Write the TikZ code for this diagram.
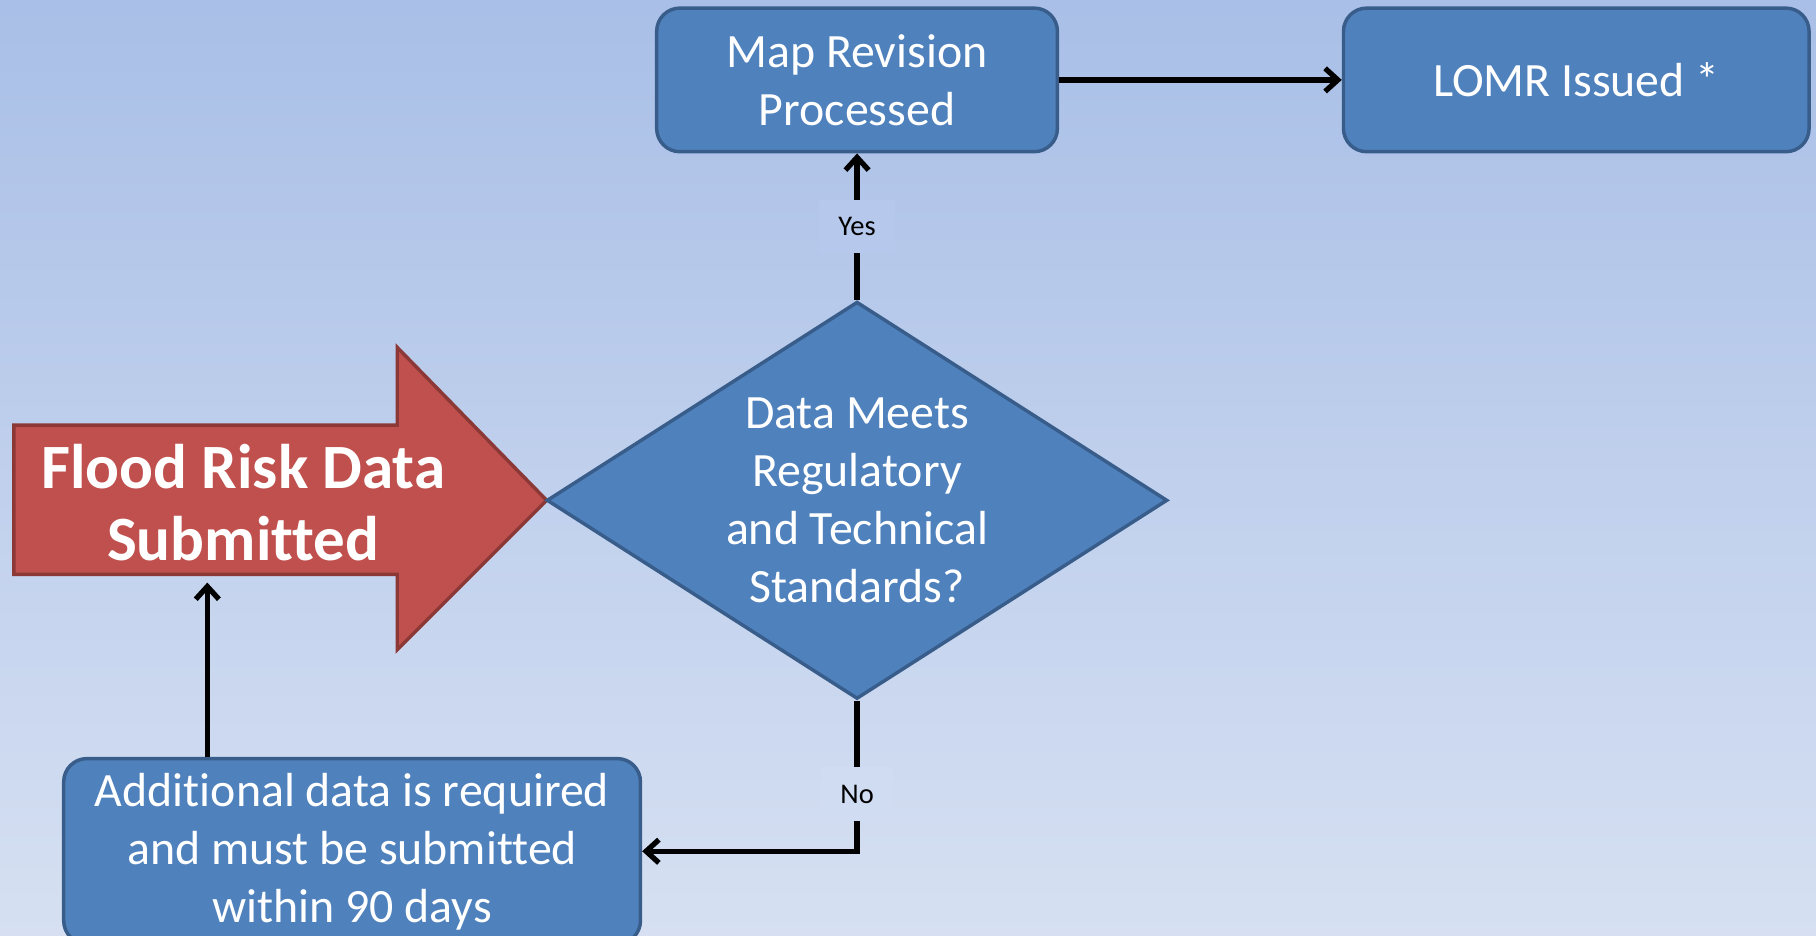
\documentclass[tikz,border=0pt]{standalone}
\usepackage{fontspec}
\setmainfont[Ligatures=NoCommon]{Carlito}
\usetikzlibrary{arrows,arrows.meta,shapes,positioning,calc}

\definecolor{boxblue}{HTML}{4F81BD}
\definecolor{boxedge}{HTML}{385D8A}
\definecolor{arrowred}{HTML}{C0504D}
\definecolor{arrowedge}{HTML}{8C3836}
\definecolor{bgtop}{HTML}{A9BFE7}
\definecolor{bgbottom}{HTML}{D6E0F2}

\begin{document}
\begin{tikzpicture}[
		process/.style={draw=boxedge, line width=1.7pt, fill=boxblue, rounded corners=0.4cm, text=white, align=center, font=\fontsize{23.5}{28.5}\selectfont},
		decision/.style={diamond, aspect=1.5625, draw=boxedge, line width=1.7pt, fill=boxblue, text=white, align=center, inner sep=0pt, minimum width=10.72cm, minimum height=6.86cm, font=\fontsize{23.5}{28.5}\selectfont},
		flow/.style={-{Straight Barb[length=2.2mm, width=4mm]}, line width=2.6pt, black},
		answer/.style={inner xsep=0.33cm, inner ysep=0.3cm, font=\fontsize{14}{16}\selectfont}
	]
	% background
	\clip (0,0) rectangle (31.36,16.16);
	\shade[top color=bgtop, bottom color=bgbottom] (0,0) rectangle (31.36,16.16);
	
	% submission arrow
	\draw[fill=arrowred, draw=arrowedge, line width=1.7pt] (0.24,8.82) -- (6.86,8.82) -- (6.86,10.16) -- (9.44,7.52) -- (6.86,4.94) -- (6.86,6.24) -- (0.24,6.24) -- cycle;
	\node[text=white, align=center, font=\fontsize{31}{35.3}\selectfont\bfseries] (flood) at (4.2,7.48) {Flood Risk Data\\Submitted};
	\coordinate (floodfoot) at (3.58,6.1);
	
	% boxes
	\node[decision] (check) at (14.8,7.52) {Data Meets\\Regulatory\\and Technical\\Standards?};
	\node[process, minimum width=6.92cm, minimum height=2.48cm] (maprev) at (14.8,14.78) {Map Revision\\Processed};
	\node[process, minimum width=8.04cm, minimum height=2.48cm] (lomr) at (27.22,14.78) {LOMR Issued *};
	\node[process, minimum width=9.96cm, minimum height=3.2cm] (extra) at (6.08,1.46) {Additional data is required\\and must be submitted\\within 90 days};
	
	% connectors
	\draw[flow] (maprev) -- (lomr);
	\draw[flow] (check.north) -- node[answer, fill={rgb,255:red,182;green,200;blue,235}] {Yes} (maprev.south);
	\draw[flow] (check.south) |- node[answer, pos=0.31, fill={rgb,255:red,208;green,220;blue,242}] {No} (extra.east);
	\draw[flow] (floodfoot |- extra.north) -- (floodfoot);
\end{tikzpicture}
\end{document}
